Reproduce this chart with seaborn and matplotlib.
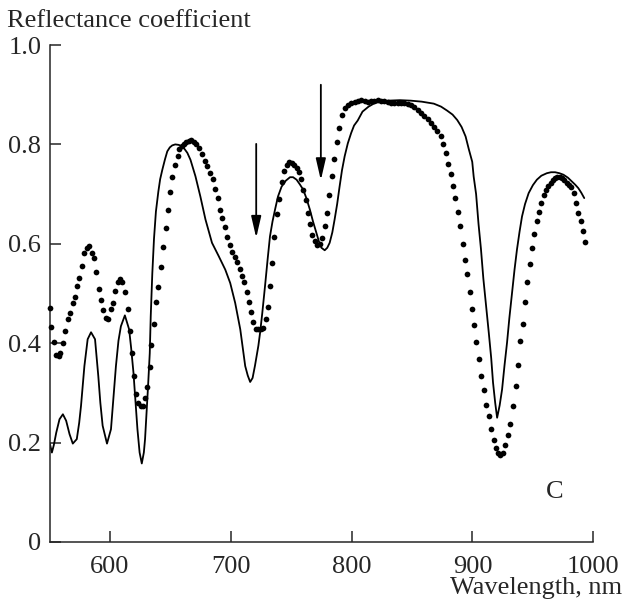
import matplotlib
matplotlib.use("Agg")
import matplotlib.pyplot as plt
import seaborn as sns
import pandas as pd

# ---- data ----
theory_wl = [550.0, 551.9, 553.5, 555.5, 558.2, 561.0, 563.7, 566.5, 569.2, 572.5,
             574.5, 576.0, 578.8, 581.5, 584.3, 587.6, 590.3, 592.0, 593.9, 597.5,
             600.8, 602.8, 604.9, 607.0, 609.0, 612.3, 615.8, 617.5, 619.4, 621.0,
             622.7, 624.5, 626.3, 628.0, 629.0, 631.5, 632.9, 633.7, 635.0, 636.4,
             638.0, 640.0, 641.5, 643.3, 645.5, 647.4, 649.5, 651.5, 654.0, 657.0,
             661.0, 664.0, 666.6, 670.7, 674.8, 679.0, 684.4, 690.0, 695.4, 699.5,
             703.6, 707.8, 711.9, 714.0, 716.0, 718.0, 720.0, 722.8, 724.2, 726.0,
             728.3, 730.5, 732.4, 734.5, 736.6, 739.0, 742.0, 745.5, 749.0, 751.5,
             754.4, 757.0, 759.9, 762.5, 765.4, 768.0, 770.8, 773.0, 775.0, 777.7,
             779.8, 781.8, 784.0, 785.9, 788.0, 790.0, 792.0, 794.2, 796.8, 799.6,
             802.0, 805.0, 809.0, 814.0, 819.0, 825.0, 830.0, 840.0, 849.0, 858.0,
             868.0, 874.0, 879.0, 883.5, 887.4, 891.0, 894.3, 897.0, 899.8, 901.0,
             903.0, 905.0, 907.0, 909.0, 911.5, 913.5, 915.5, 917.0, 918.8, 920.4,
             922.5, 924.5, 926.5, 928.6, 930.5, 932.7, 934.8, 936.8, 939.0, 941.0,
             943.5, 946.5, 950.0, 953.3, 957.0, 961.5, 965.0, 968.4, 972.0, 975.3,
             979.0, 982.0, 985.0, 987.6, 990.0, 992.5]
theory_r = [0.200, 0.180, 0.195, 0.220, 0.247, 0.257, 0.244, 0.217, 0.198, 0.207,
            0.240, 0.274, 0.354, 0.408, 0.422, 0.408, 0.334, 0.280, 0.234, 0.198,
            0.227, 0.290, 0.354, 0.405, 0.434, 0.456, 0.428, 0.390, 0.341, 0.285,
            0.227, 0.180, 0.158, 0.180, 0.207, 0.314, 0.380, 0.454, 0.540, 0.610,
            0.665, 0.705, 0.730, 0.749, 0.770, 0.786, 0.794, 0.798, 0.800, 0.799,
            0.793, 0.783, 0.769, 0.736, 0.695, 0.649, 0.602, 0.575, 0.548, 0.521,
            0.481, 0.428, 0.354, 0.335, 0.322, 0.330, 0.355, 0.395, 0.421, 0.460,
            0.515, 0.570, 0.615, 0.645, 0.669, 0.695, 0.715, 0.727, 0.734, 0.734,
            0.729, 0.720, 0.709, 0.692, 0.669, 0.645, 0.622, 0.604, 0.592, 0.587,
            0.592, 0.602, 0.623, 0.649, 0.680, 0.715, 0.748, 0.776, 0.802, 0.823,
            0.838, 0.848, 0.866, 0.876, 0.883, 0.887, 0.888, 0.889, 0.888, 0.886,
            0.882, 0.876, 0.868, 0.860, 0.849, 0.835, 0.816, 0.790, 0.765, 0.735,
            0.700, 0.640, 0.590, 0.530, 0.470, 0.421, 0.370, 0.321, 0.280, 0.250,
            0.275, 0.307, 0.355, 0.401, 0.450, 0.501, 0.548, 0.588, 0.625, 0.655,
            0.680, 0.702, 0.718, 0.729, 0.737, 0.742, 0.744, 0.744, 0.742, 0.739,
            0.733, 0.726, 0.719, 0.712, 0.703, 0.692]

exp_wl = [550.0, 551.2, 553.6, 555.5, 557.4, 559.0, 561.3, 563.0, 565.0, 567.0,
          569.2, 571.4, 572.8, 574.7, 576.9, 578.8, 581.0, 583.0, 585.0, 587.0,
          588.7, 590.6, 592.5, 594.4, 596.4, 598.3, 600.8, 602.7, 604.3, 606.2,
          608.4, 610.3, 612.3, 614.5, 616.4, 618.0, 620.0, 621.9, 623.5, 625.4,
          627.4, 628.8, 630.4, 632.9, 634.2, 636.0, 637.8, 640.0, 642.0, 643.8,
          646.0, 648.2, 649.9, 651.5, 653.7, 656.0, 657.5, 659.2, 661.1, 663.0,
          665.2, 667.1, 669.4, 671.2, 673.5, 676.2, 678.4, 680.6, 682.8, 685.0,
          687.2, 689.1, 691.3, 692.9, 695.1, 697.1, 699.0, 700.9, 703.1, 705.0,
          707.2, 709.1, 711.3, 713.2, 715.2, 716.8, 718.7, 720.9, 722.8, 725.0,
          726.9, 728.9, 730.5, 732.4, 734.4, 736.0, 737.9, 739.8, 742.0, 744.2,
          746.4, 748.4, 750.3, 752.2, 754.4, 756.3, 758.0, 759.9, 761.8, 763.5,
          765.4, 767.3, 769.5, 771.6, 773.6, 775.5, 777.7, 779.6, 781.5, 783.7,
          785.4, 787.6, 789.6, 792.0, 794.7, 796.9, 799.6, 802.4, 805.1, 807.9,
          810.7, 813.4, 816.1, 818.9, 821.6, 824.3, 827.1, 829.8, 832.6, 835.3,
          838.1, 840.8, 843.5, 846.3, 849.0, 851.8, 854.5, 857.2, 860.0, 862.8,
          865.5, 868.3, 871.0, 874.3, 875.9, 877.8, 880.0, 881.9, 883.9, 885.8,
          888.0, 889.9, 891.9, 893.8, 895.7, 897.6, 899.5, 901.4, 903.3, 905.6,
          907.4, 909.4, 911.6, 913.5, 915.4, 917.6, 919.5, 921.2, 923.1, 925.3,
          927.2, 929.4, 931.3, 933.5, 935.7, 937.4, 939.3, 941.5, 943.4, 945.1,
          947.3, 949.2, 951.1, 953.0, 954.9, 956.8, 958.8, 960.7, 962.6, 964.6,
          966.5, 968.4, 970.3, 972.2, 974.1, 976.1, 978.0, 979.9, 981.8, 983.7,
          985.7, 987.6, 989.5, 991.2, 993.1]
exp_r = [0.470, 0.432, 0.403, 0.376, 0.374, 0.380, 0.400, 0.424, 0.449, 0.460,
         0.481, 0.493, 0.516, 0.531, 0.555, 0.582, 0.592, 0.595, 0.582, 0.572,
         0.544, 0.509, 0.486, 0.466, 0.450, 0.449, 0.468, 0.481, 0.505, 0.523,
         0.530, 0.523, 0.503, 0.468, 0.424, 0.380, 0.334, 0.297, 0.279, 0.274,
         0.274, 0.289, 0.312, 0.353, 0.396, 0.439, 0.483, 0.513, 0.553, 0.594,
         0.631, 0.669, 0.704, 0.734, 0.759, 0.777, 0.790, 0.797, 0.801, 0.804,
         0.806, 0.808, 0.804, 0.801, 0.793, 0.781, 0.766, 0.757, 0.742, 0.730,
         0.710, 0.693, 0.669, 0.652, 0.634, 0.614, 0.597, 0.583, 0.574, 0.563,
         0.550, 0.535, 0.523, 0.503, 0.483, 0.463, 0.443, 0.428, 0.429, 0.428,
         0.431, 0.449, 0.473, 0.515, 0.562, 0.614, 0.659, 0.690, 0.724, 0.746,
         0.759, 0.764, 0.762, 0.759, 0.752, 0.744, 0.730, 0.709, 0.689, 0.662,
         0.639, 0.618, 0.605, 0.598, 0.600, 0.612, 0.635, 0.662, 0.699, 0.737,
         0.770, 0.804, 0.833, 0.859, 0.873, 0.880, 0.884, 0.886, 0.888, 0.890,
         0.888, 0.886, 0.887, 0.888, 0.890, 0.888, 0.888, 0.886, 0.884, 0.883,
         0.883, 0.884, 0.883, 0.882, 0.879, 0.875, 0.869, 0.864, 0.857, 0.851,
         0.844, 0.836, 0.826, 0.817, 0.801, 0.783, 0.760, 0.741, 0.717, 0.692,
         0.663, 0.635, 0.600, 0.567, 0.540, 0.503, 0.468, 0.436, 0.402, 0.369,
         0.335, 0.306, 0.275, 0.254, 0.228, 0.205, 0.190, 0.179, 0.175, 0.179,
         0.195, 0.215, 0.237, 0.274, 0.314, 0.357, 0.404, 0.438, 0.483, 0.523,
         0.560, 0.592, 0.620, 0.645, 0.663, 0.683, 0.699, 0.709, 0.717, 0.723,
         0.729, 0.732, 0.734, 0.734, 0.732, 0.729, 0.723, 0.719, 0.714, 0.702,
         0.682, 0.662, 0.645, 0.625, 0.603]

x_ticks = [600, 700, 800, 900, 1000]
y_ticks = [0, 0.2, 0.4, 0.6, 0.8, 1.0]
y_tick_labels = ["0", "0.2", "0.4", "0.6", "0.8", "1.0"]

arrow_x = [721.0, 774.5]
arrow_top = [0.801, 0.920]
arrow_tip = [0.612, 0.728]

# ---- styling ----
sns.set_style("ticks")
plt.rcParams["font.family"] = ["Liberation Serif", "DejaVu Serif"]
FS = 19

fig = plt.figure(figsize=(6.23, 6.01), dpi=100)
ax = fig.add_axes([49.6 / 623, (601 - 542) / 601, (593.3 - 49.6) / 623, (542 - 45) / 601])

df_t = pd.DataFrame({"wl": theory_wl, "r": theory_r})
df_e = pd.DataFrame({"wl": exp_wl, "r": exp_r})

sns.lineplot(data=df_t, x="wl", y="r", sort=False, estimator=None,
             color="black", lw=1.3, ax=ax)
sns.scatterplot(data=df_e, x="wl", y="r", color="black", s=17,
                linewidth=0, ax=ax, clip_on=False, zorder=3)

for xa, yt, yp in zip(arrow_x, arrow_top, arrow_tip):
    ax.annotate("", xy=(xa, yp), xytext=(xa, yt),
                arrowprops=dict(arrowstyle="-|>,head_length=1.3,head_width=0.3",
                                color="black", lw=1.3, shrinkA=0, shrinkB=0))

ax.text(968, 0.10, "C", fontsize=FS, ha="center", va="center")

ax.set_xlim(550, 1000)
ax.set_ylim(0, 1.0)
ax.set_xticks(x_ticks)
ax.set_yticks(y_ticks)
ax.set_yticklabels(y_tick_labels)
ax.set_xlabel("")
ax.set_ylabel("")
sns.despine(ax=ax)
for s in ["left", "bottom"]:
    ax.spines[s].set_linewidth(1.1)
ax.tick_params(direction="in", length=8, width=1.1, labelsize=FS)
ax.tick_params(axis="x", pad=10)
ax.tick_params(axis="y", pad=6)

fig.text(7 / 623, 1 - 27 / 601, "Reflectance coefficient", fontsize=FS,
         ha="left", va="baseline")
fig.text(622 / 623, 1 - 594 / 601, "Wavelength, nm", fontsize=FS,
         ha="right", va="baseline")

fig.savefig("out.png", dpi=100)
